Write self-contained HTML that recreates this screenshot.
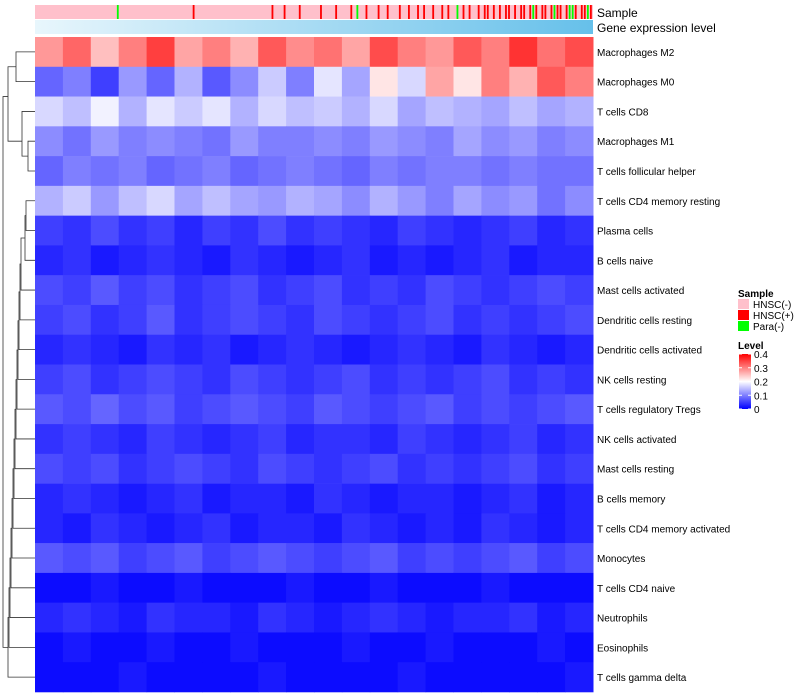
<!DOCTYPE html>
<html><head><meta charset="utf-8"><style>
body{margin:0;background:#fff;}
svg{display:block;font-family:"Liberation Sans",sans-serif;}
</style></head><body>
<svg id="c" width="800" height="700" xmlns="http://www.w3.org/2000/svg"></svg>
<script>
const rowNames=["Macrophages M2","Macrophages M0","T cells CD8","Macrophages M1","T cells follicular helper","T cells CD4 memory resting","Plasma cells","B cells naive","Mast cells activated","Dendritic cells resting","Dendritic cells activated","NK cells resting","T cells regulatory  Tregs","NK cells activated","Mast cells resting","B cells memory","T cells CD4 memory activated","Monocytes","T cells CD4 naive","Neutrophils","Eosinophils","T cells gamma delta"];
const values=[
[0.28,0.32,0.25,0.3,0.35,0.27,0.3,0.26,0.33,0.29,0.31,0.27,0.34,0.3,0.28,0.33,0.3,0.36,0.31,0.34],
[0.08,0.1,0.05,0.12,0.08,0.14,0.07,0.11,0.16,0.1,0.18,0.13,0.22,0.17,0.27,0.22,0.3,0.26,0.33,0.3],
[0.17,0.15,0.19,0.14,0.18,0.16,0.18,0.14,0.17,0.15,0.16,0.14,0.17,0.13,0.15,0.14,0.13,0.15,0.13,0.14],
[0.11,0.09,0.12,0.1,0.11,0.1,0.09,0.12,0.1,0.1,0.11,0.1,0.12,0.11,0.1,0.13,0.11,0.12,0.1,0.11],
[0.08,0.1,0.09,0.1,0.08,0.09,0.1,0.08,0.09,0.1,0.09,0.08,0.1,0.09,0.1,0.1,0.09,0.1,0.09,0.09],
[0.14,0.16,0.12,0.15,0.17,0.13,0.15,0.13,0.12,0.14,0.13,0.11,0.14,0.12,0.1,0.13,0.11,0.12,0.09,0.11],
[0.05,0.04,0.06,0.04,0.05,0.03,0.05,0.04,0.06,0.04,0.05,0.04,0.03,0.05,0.04,0.03,0.04,0.05,0.03,0.04],
[0.03,0.04,0.02,0.03,0.04,0.03,0.02,0.04,0.03,0.02,0.03,0.04,0.02,0.03,0.02,0.03,0.04,0.02,0.03,0.03],
[0.06,0.05,0.07,0.05,0.06,0.04,0.05,0.06,0.04,0.05,0.06,0.04,0.05,0.04,0.06,0.05,0.04,0.05,0.06,0.05],
[0.05,0.06,0.04,0.05,0.07,0.04,0.05,0.06,0.05,0.04,0.06,0.05,0.04,0.05,0.06,0.04,0.05,0.04,0.05,0.06],
[0.03,0.04,0.03,0.02,0.04,0.03,0.04,0.02,0.03,0.04,0.03,0.02,0.03,0.04,0.03,0.02,0.04,0.03,0.02,0.03],
[0.05,0.06,0.04,0.05,0.06,0.05,0.04,0.06,0.05,0.04,0.05,0.06,0.04,0.05,0.04,0.05,0.06,0.04,0.05,0.04],
[0.07,0.06,0.08,0.06,0.07,0.05,0.06,0.07,0.06,0.05,0.07,0.06,0.05,0.06,0.07,0.05,0.06,0.05,0.06,0.07],
[0.04,0.05,0.04,0.03,0.05,0.04,0.03,0.04,0.05,0.03,0.04,0.04,0.03,0.05,0.04,0.03,0.04,0.05,0.03,0.04],
[0.06,0.05,0.06,0.04,0.05,0.06,0.05,0.04,0.06,0.05,0.04,0.05,0.06,0.04,0.05,0.04,0.05,0.06,0.04,0.05],
[0.03,0.04,0.03,0.02,0.03,0.04,0.02,0.03,0.03,0.02,0.04,0.03,0.02,0.03,0.03,0.02,0.03,0.04,0.02,0.03],
[0.03,0.02,0.04,0.03,0.02,0.03,0.04,0.02,0.03,0.03,0.02,0.04,0.03,0.02,0.03,0.02,0.04,0.03,0.02,0.03],
[0.07,0.06,0.07,0.05,0.06,0.07,0.05,0.06,0.07,0.06,0.05,0.06,0.07,0.05,0.06,0.05,0.06,0.07,0.05,0.06],
[0.01,0.01,0.02,0.01,0.01,0.02,0.01,0.01,0.01,0.02,0.01,0.01,0.02,0.01,0.01,0.01,0.02,0.01,0.01,0.01],
[0.03,0.04,0.03,0.02,0.04,0.03,0.03,0.02,0.04,0.03,0.02,0.03,0.04,0.03,0.02,0.03,0.03,0.04,0.02,0.03],
[0.01,0.02,0.01,0.01,0.02,0.01,0.01,0.02,0.01,0.01,0.01,0.02,0.01,0.01,0.02,0.01,0.01,0.01,0.02,0.01],
[0.01,0.01,0.01,0.02,0.01,0.01,0.01,0.01,0.02,0.01,0.01,0.01,0.01,0.02,0.01,0.01,0.01,0.01,0.01,0.02]];
const sampleCodes=[
0,0,0,0,0,0,0,0,0,0,0,0,0,0,0,0,0,0,0,0,0,0,0,0,0,0,0,2,0,0,0,0,0,0,0,0,0,0,0,0,
0,0,0,0,0,0,0,0,0,0,0,0,1,0,0,0,0,0,0,0,0,0,0,0,0,0,0,0,0,0,0,0,0,0,0,0,0,0,1,0,
0,0,1,0,0,0,0,1,0,0,0,0,0,0,1,0,0,0,0,1,0,0,0,0,1,0,2,0,0,1,0,0,0,1,0,0,1,0,0,0,
1,0,0,1,0,0,1,0,1,0,0,1,0,0,1,0,1,0,0,2,0,1,0,1,0,0,1,0,1,1,0,1,0,1,0,1,1,0,1,0,
1,1,0,1,2,1,0,1,1,0,1,2,1,1,0,1,2,2,1,0,1,1,2,1];
const sampleLabels=["HNSC(-)","HNSC(+)","Para(-)"];
const sampleColors=["#FFC0CB","#FF0000","#00FF00"];
const levelTicks=[0.4,0.3,0.2,0.1,0];

const svg=document.getElementById('c');const NS="http://www.w3.org/2000/svg";
function el(t,a,p){const e=document.createElementNS(NS,t);for(const k in a)e.setAttribute(k,a[k]);(p||svg).appendChild(e);return e;}
const X0=35,X1=593,Y0=37,Y1=692;
const rowH=(Y1-Y0)/rowNames.length;
function xCol(i,n){return X0+(X1-X0)*i/n;}
function yRow(r){return Y0+r*rowH;}
function color(v){v=Math.max(0,Math.min(0.4,v));let r,g,b;
 if(v<0.2){const t=v/0.2;r=255*t;g=255*t;b=255;}else{const t=(v-0.2)/0.2;r=255;g=255*(1-t);b=255*(1-t);}
 return `rgb(${r|0},${g|0},${b|0})`;}
function lvlY(v){return 409-(v/0.4)*55;}

const defs=el('defs',{});
// sample annotation
const ns=sampleCodes.length;
el('rect',{x:X0,y:5,width:X1-X0,height:14,fill:sampleColors[0]});
sampleCodes.forEach((c,i)=>{if(c===0)return;const r=el('rect',{x:xCol(i,ns),y:5,width:(X1-X0)/ns*0.6,height:14,fill:sampleColors[c]});

});
const lg=el('linearGradient',{id:'ge',x1:0,x2:1,y1:0,y2:0},defs);
el('stop',{offset:0,'stop-color':'#e8f6fc'},lg);el('stop',{offset:1,'stop-color':'#66c0ea'},lg);
const ge=el('rect',{x:X0,y:20,width:X1-X0,height:14,fill:'url(#ge)'});

const t1=el('text',{x:597,y:17,'font-size':12});t1.textContent="Sample";

const t2=el('text',{x:597,y:32,'font-size':12});t2.textContent="Gene expression level";


// heatmap cells
values.forEach((row,r)=>{const n=row.length;row.forEach((v,i)=>{
 const c=el('rect',{x:xCol(i,n),y:yRow(r),width:(X1-X0)/n+0.5,height:rowH+0.3,fill:color(v)});
 
 });
 const t=el('text',{x:597,y:yRow(r)+rowH/2+4,'font-size':10});t.textContent=rowNames[r];
 
 });

// dendrogram (simplified)
const g=el('g',{stroke:'#333','stroke-width':0.8,fill:'none'});
function ym(r){return yRow(r)+rowH/2;}
function bracket(ya,xa,yb,xb,x){el('path',{d:`M${xa},${ya}H${x}V${yb}H${xb}`},g);}
bracket(ym(0),35,ym(1),35,16);
bracket(ym(3),35,ym(4),35,28);
bracket(ym(2),35,(ym(3)+ym(4))/2,28,22);
bracket((ym(0)+ym(1))/2,16,(ym(2)+ym(3))/2+rowH/2,22,8);
bracket(ym(5),35,ym(6),35,26);
let prevY=(ym(5)+ym(6))/2,prevX=26;
for(let r=7;r<22;r++){const x=Math.min(33,22+(r%4)*3);bracket(prevY,prevX,ym(r),35,Math.min(prevX,x)-1);prevY=(prevY+ym(r))/2;prevX=Math.min(prevX,x)-1;}
bracket((ym(0)+ym(3))/2,8,prevY,prevX,3);

// legend
const lgd=el('g',{});
const st=el('text',{x:738,y:297,'font-size':10,'font-weight':'bold'},lgd);st.textContent="Sample";
sampleLabels.forEach((s,i)=>{el('rect',{x:738,y:299+i*11,width:11,height:10,fill:sampleColors[i]},lgd);
 const t=el('text',{x:753,y:308+i*11,'font-size':10},lgd);t.textContent=s;
 });
const lt=el('text',{x:738,y:349,'font-size':10,'font-weight':'bold'},lgd);lt.textContent="Level";
const lg2=el('linearGradient',{id:'lv',x1:0,x2:0,y1:1,y2:0},defs);
el('stop',{offset:0,'stop-color':'#0000ff'},lg2);el('stop',{offset:0.5,'stop-color':'#ffffff'},lg2);el('stop',{offset:1,'stop-color':'#ff0000'},lg2);
el('rect',{x:739,y:354,width:12,height:55,fill:'url(#lv)'},lgd);
levelTicks.forEach(v=>{const t=el('text',{x:754,y:lvlY(v)+4,'font-size':10},lgd);t.textContent=String(v);
 
 el('line',{x1:739,x2:742,y1:lvlY(v),y2:lvlY(v),stroke:'#fff'},lgd);el('line',{x1:748,x2:751,y1:lvlY(v),y2:lvlY(v),stroke:'#fff'},lgd);});
</script>
</body></html>
